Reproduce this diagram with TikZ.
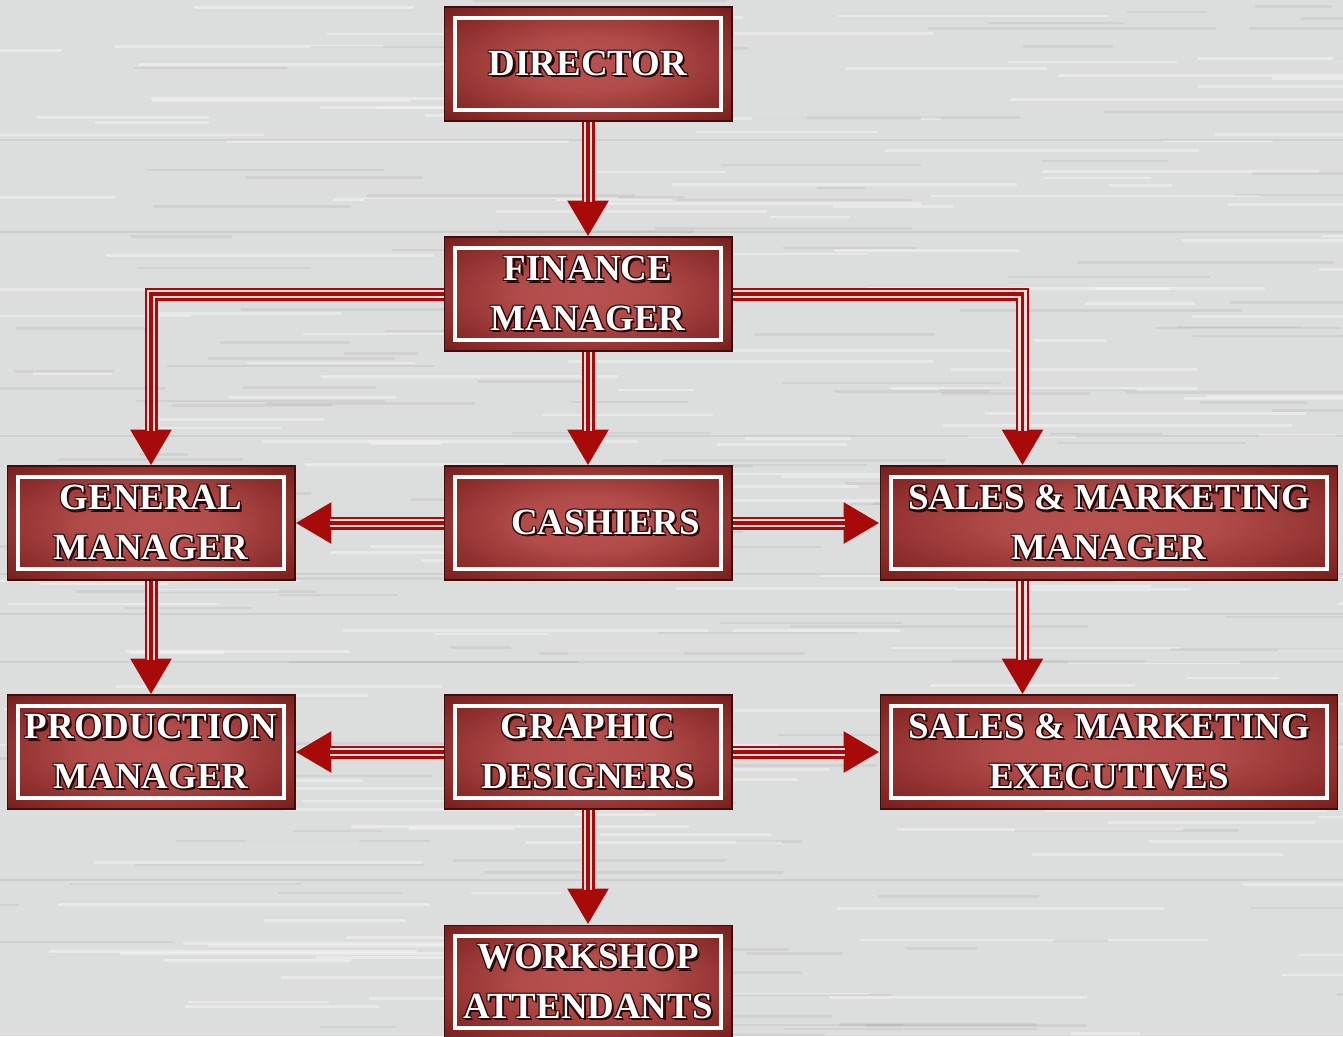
\documentclass[tikz,border=0pt]{standalone}
\usepackage{fontspec}
\setmainfont{Liberation Serif}
\usetikzlibrary{arrows.meta,calc}
\definecolor{bg}{HTML}{DCDEDD}
\definecolor{boxin}{HTML}{B85250}
\definecolor{boxmid}{HTML}{862826}
\definecolor{boxout}{HTML}{581412}
\definecolor{outl}{HTML}{2A0808}
\definecolor{arr}{HTML}{A80A0A}
\definecolor{stripe}{HTML}{F6DCDC}
\pgfdeclareradialshading{boxshade}{\pgfpoint{0bp}{0bp}}{color(0bp)=(boxin); color(12bp)=(boxin!85!boxmid); color(30bp)=(boxmid); color(44bp)=(boxout); color(50bp)=(boxout)}
\newcommand\shd[3]{\makebox[0pt][l]{\kern#1\raisebox{#2}{\color{outl}#3}}}
\newcommand\bt[1]{\shd{0.6pt}{-0.6pt}{#1}\shd{-0.6pt}{0.6pt}{#1}\shd{0.6pt}{0.6pt}{#1}\shd{-0.6pt}{-0.6pt}{#1}\shd{1.2pt}{-1.2pt}{#1}{\color{white}#1}}
\tikzset{
  orgbox/.style={rectangle, minimum width=5.76cm, minimum height=2.28cm, inner sep=0pt,
    shading=boxshade, draw=boxout!70!black, line width=0.6pt, align=center,
    font=\bfseries\fontsize{21}{28}\selectfont,
    path picture={\draw[white, line width=1.8pt]
      ([shift={(0.22cm,0.22cm)}]path picture bounding box.south west) rectangle
      ([shift={(-0.22cm,-0.22cm)}]path picture bounding box.north east);}},
  widebox/.style={orgbox, minimum width=9.16cm},
  conn/.style={draw=arr, line width=7.4pt, line join=miter,
    -{Triangle[width=0.78cm,length=0.72cm]},
    postaction={draw=stripe, line width=5.1pt, arrows=-, shorten >=0.7cm},
    postaction={draw=arr, line width=1.8pt, arrows=-, shorten >=0.7cm}}
}
\begin{document}
\begin{tikzpicture}[x=0.02cm, y=-0.02cm]
\useasboundingbox (0,0) rectangle (1343,1036);
\clip (0,0) rectangle (1343,1036);
\fill[bg] (0,0) rectangle (1343,1036);
% wood texture
\pgfmathsetseed{7}
\foreach \i in {1,...,180}{
  \pgfmathsetmacro\xa{rnd*1400-60}
  \pgfmathsetmacro\ya{rnd*1036}
  \pgfmathsetmacro\ln{60+rnd*320}
  \draw[white, opacity=0.35, line width=1.6pt] (\xa,\ya) -- ++(\ln,0);
}
\foreach \i in {1,...,140}{
  \pgfmathsetmacro\xa{rnd*1400-60}
  \pgfmathsetmacro\ya{rnd*1036}
  \pgfmathsetmacro\ln{40+rnd*260}
  \draw[black!45, opacity=0.15, line width=1.4pt] (\xa,\ya) -- ++(\ln,0);
}
\foreach \yy in {140,232,436,574,614,662,880}{
  \draw[black!50, opacity=0.15, line width=1.5pt] (0,\yy) -- (1343,\yy);
}

% boxes
\node[orgbox] (dir) at (588,64) {\bt{DIRECTOR}};
\node[orgbox] (fin) at (588,294) {\bt{FINANCE}\\\bt{MANAGER}};
\node[orgbox] (gm) at (151,523) {\bt{GENERAL}\\\bt{MANAGER}};
\node[orgbox] (cash) at (588,523) {\hspace*{0.7cm}\bt{CASHIERS}};
\node[widebox] (smm) at (1109,523) {\bt{SALES \& MARKETING}\\\bt{MANAGER}};
\node[orgbox] (pm) at (151,752) {\bt{PRODUCTION}\\\bt{MANAGER}};
\node[orgbox] (gd) at (588,752) {\bt{GRAPHIC}\\\bt{DESIGNERS}};
\node[widebox] (sme) at (1109,752) {\bt{SALES \& MARKETING}\\\bt{EXECUTIVES}};
\node[orgbox] (wa) at (588,982) {\bt{WORKSHOP}\\\bt{ATTENDANTS}};

% connectors
\coordinate (smmin) at ([xshift=2.86cm]smm.north west);
\coordinate (smmout) at ([xshift=2.86cm]smm.south west);
\coordinate (smein) at ([xshift=2.86cm]sme.north west);
\draw[conn] (dir.south) -- (fin.north);
\draw[conn] (fin.south) -- (cash.north);
\draw[conn] (fin.west) -| (gm.north);
\draw[conn] (fin.east) -| (smmin);
\draw[conn] (cash.west) -- (gm.east);
\draw[conn] (cash.east) -- (smm.west);
\draw[conn] (gm.south) -- (pm.north);
\draw[conn] (smmout) -- (smein);
\draw[conn] (gd.west) -- (pm.east);
\draw[conn] (gd.east) -- (sme.west);
\draw[conn] (gd.south) -- (wa.north);
\end{tikzpicture}
\end{document}
